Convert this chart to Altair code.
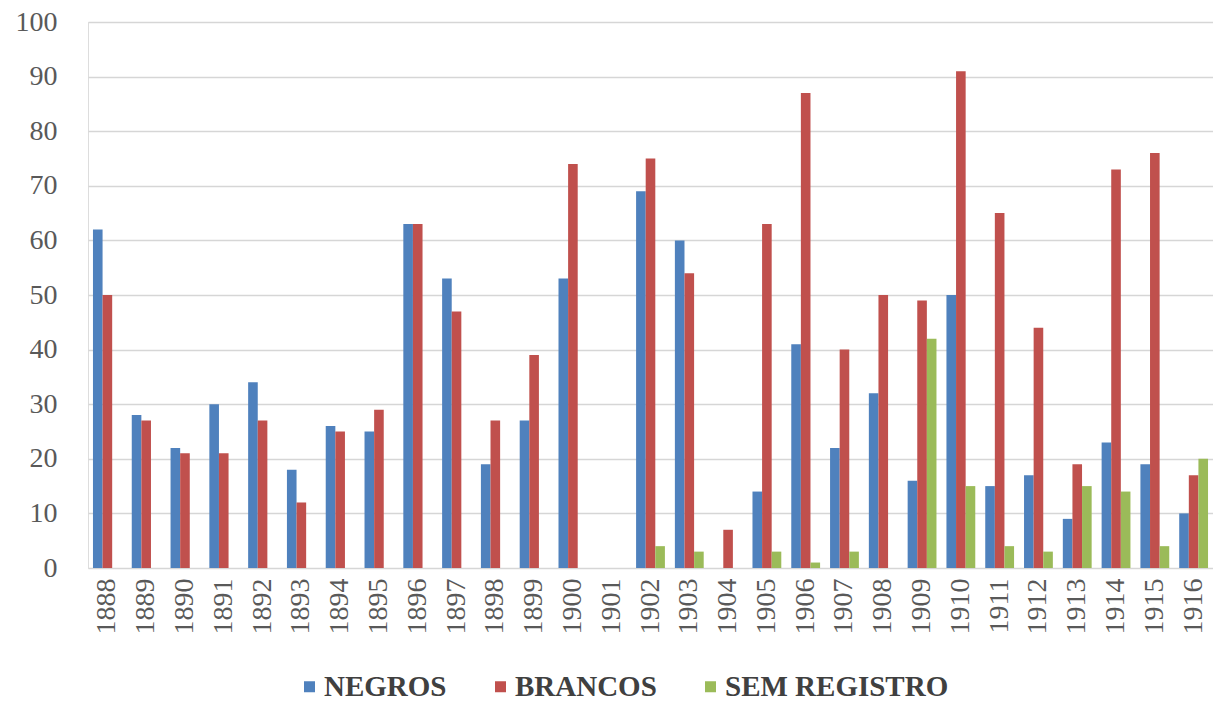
import altair as alt
import pandas as pd

years = [str(y) for y in range(1888, 1917)]
negros = [62, 28, 22, 30, 34, 18, 26, 25, 63, 53, 19, 27, 53, 0, 69, 60, 0, 14, 41, 22, 32, 16, 50, 15, 17, 9, 23, 19, 10]
brancos = [50, 27, 21, 21, 27, 12, 25, 29, 63, 47, 27, 39, 74, 0, 75, 54, 7, 63, 87, 40, 50, 49, 91, 65, 44, 19, 73, 76, 17]
sem_registro = [0, 0, 0, 0, 0, 0, 0, 0, 0, 0, 0, 0, 0, 0, 4, 3, 0, 3, 1, 3, 0, 42, 15, 4, 3, 15, 14, 4, 20]

series = ["NEGROS", "BRANCOS", "SEM REGISTRO"]
colors = ["#4F81BD", "#C0504D", "#9BBB59"]

rows = []
for name, vals in zip(series, [negros, brancos, sem_registro]):
    for yr, v in zip(years, vals):
        rows.append({"ano": yr, "grupo": name, "valor": v})
df = pd.DataFrame(rows)

FONT = "Liberation Serif"

chart = (
    alt.Chart(df)
    .mark_bar()
    .encode(
        x=alt.X(
            "ano:N",
            sort=years,
            title=None,
            scale=alt.Scale(paddingInner=0.257, paddingOuter=0.128),
            axis=alt.Axis(
                labelAngle=-90,
                labelAlign="right",
                labelBaseline="middle",
                labelFont=FONT,
                labelFontSize=28,
                labelColor="#595959",
                labelPadding=10,
                domain=False,
                ticks=False,
                grid=False,
            ),
        ),
        xOffset=alt.XOffset(
            "grupo:N",
            sort=series,
            scale=alt.Scale(paddingInner=0, paddingOuter=0),
        ),
        y=alt.Y(
            "valor:Q",
            title=None,
            scale=alt.Scale(domain=[0, 100], nice=False),
            axis=alt.Axis(
                values=list(range(0, 101, 10)),
                labelFont=FONT,
                labelFontSize=28,
                labelColor="#595959",
                labelPadding=31,
                domain=False,
                ticks=False,
                gridColor="#d6d6d6",
                gridWidth=1.6,
            ),
        ),
        color=alt.Color(
            "grupo:N",
            sort=series,
            scale=alt.Scale(domain=series, range=colors),
            legend=alt.Legend(
                title=None,
                orient="none",
                direction="horizontal",
                columns=3,
                legendX=207,
                legendY=650,
                padding=0,
                symbolType="square",
                symbolSize=121,
                symbolStrokeWidth=0,
                labelFont=FONT,
                labelFontSize=29,
                labelFontWeight="bold",
                labelColor="#404040",
                labelOffset=0,
                columnPadding=39,
                labelLimit=400,
            ),
        ),
    )
    .properties(
        width=1125,
        height=546,
        autosize=alt.AutoSizeParams(type="none"),
        padding={"left": 88, "top": 22, "right": 0, "bottom": 136},
    )
    .configure_view(stroke=None)
    .configure(background="white")
)

chart.save("out.html", embed_options={"renderer": "svg", "actions": False})
